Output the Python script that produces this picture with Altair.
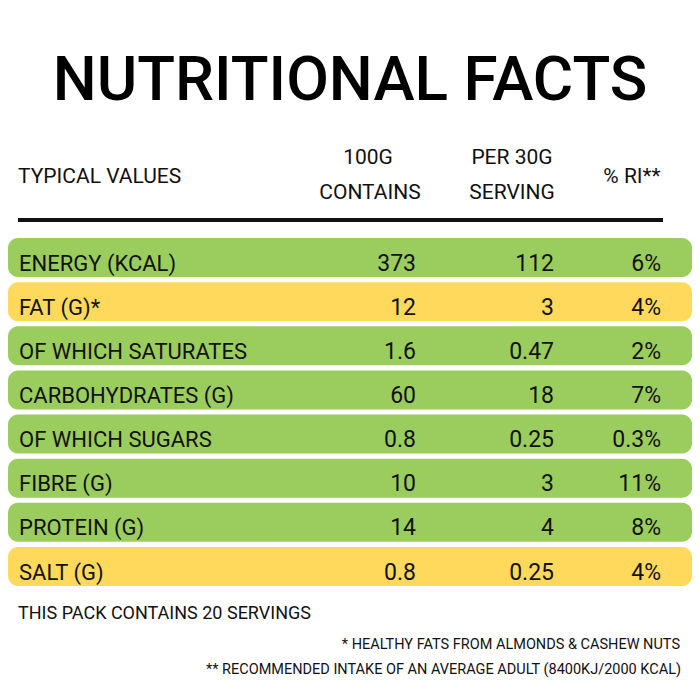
import altair as alt
import pandas as pd

FONT = "Roboto"

title_text = ["NUTRITIONAL FACTS"]
labels = ["ENERGY (KCAL)", "FAT (G)*", "OF WHICH SATURATES", "CARBOHYDRATES (G)",
          "OF WHICH SUGARS", "FIBRE (G)", "PROTEIN (G)", "SALT (G)"]
per100 = ["373", "12", "1.6", "60", "0.8", "10", "14", "0.8"]
per30 = ["112", "3", "0.47", "18", "0.25", "3", "4", "0.25"]
ri = ["6%", "4%", "2%", "7%", "0.3%", "11%", "8%", "4%"]
group = ["green", "yellow", "green", "green", "green", "green", "green", "yellow"]
header = ["TYPICAL VALUES", "100G", "CONTAINS", "PER 30G", "SERVING", "% RI**"]
footer = ["THIS PACK CONTAINS 20 SERVINGS"]
notes = ["* HEALTHY FATS FROM ALMONDS & CASHEW NUTS",
         "** RECOMMENDED INTAKE OF AN AVERAGE ADULT (8400KJ/2000 KCAL)"]

W, H = 684, 684

rows = pd.DataFrame({
    "row": list(range(len(labels))),
    "label": labels, "per100": per100, "per30": per30, "ri": ri, "group": group,
})
rows["y0"] = rows["row"] - 0.442
rows["y1"] = rows["row"] + 0.442

yscale = alt.Scale(domain=[0, 7], range=[249.5, 558.5])
base = alt.Chart(rows)

bars = base.mark_rect(cornerRadius=10).encode(
    x=alt.value(0), x2=alt.value(W),
    y=alt.Y("y0:Q", scale=yscale, axis=None), y2="y1:Q",
    color=alt.Color("group:N", scale=alt.Scale(domain=["green", "yellow"],
                                               range=["#9BCD5E", "#FFD95C"]), legend=None),
)

def txt(field, x, align, size):
    return base.mark_text(font=FONT, fontSize=size, align=align, baseline="middle",
                          dy=6, color="#111111").encode(
        x=alt.value(x), y=alt.Y("row:Q", scale=yscale, axis=None), text=f"{field}:N")

lab = txt("label", 11, "left", 22)
c1 = txt("per100", 408, "right", 23)
c2 = txt("per30", 546, "right", 23)
c3 = txt("ri", 653, "right", 23)

title = alt.Chart(pd.DataFrame({"t": title_text})).mark_text(
    font=FONT, fontSize=62, fontWeight=500, align="center", baseline="alphabetic",
    color="#000000"
).encode(x=alt.value(342), y=alt.value(92), text="t:N")

hx = [10, 360, 362, 504, 504, 624]
hy = [169, 150, 185, 150, 185, 169]
ha = ["left", "center", "center", "center", "center", "center"]
hdr_layers = []
for t, x, y, a in zip(header, hx, hy, ha):
    hdr_layers.append(alt.Chart(pd.DataFrame({"t": [t]})).mark_text(
        font=FONT, fontSize=21, align=a, baseline="middle", color="#111111"
    ).encode(x=alt.value(x), y=alt.value(y), text="t:N"))

line = alt.Chart(pd.DataFrame({"a": [0]})).mark_rule(color="#111111", strokeWidth=4).encode(
    x=alt.value(10), x2=alt.value(655), y=alt.value(212))

foot = alt.Chart(pd.DataFrame({"t": footer})).mark_text(
    font=FONT, fontSize=18, align="left", baseline="middle", color="#111111"
).encode(x=alt.value(10), y=alt.value(606), text="t:N")
n1 = alt.Chart(pd.DataFrame({"t": [notes[0]]})).mark_text(
    font=FONT, fontSize=14.5, align="right", baseline="middle", color="#111111"
).encode(x=alt.value(672), y=alt.value(637), text="t:N")
n2 = alt.Chart(pd.DataFrame({"t": [notes[1]]})).mark_text(
    font=FONT, fontSize=14.5, align="right", baseline="middle", color="#111111"
).encode(x=alt.value(673), y=alt.value(662), text="t:N")

chart = alt.layer(bars, lab, c1, c2, c3, title, *hdr_layers, line, foot, n1, n2).properties(
    width=W, height=H, padding=0, background="white"
).configure_view(stroke=None)

chart.save("out.html", embed_options={"renderer": "svg", "actions": False})
